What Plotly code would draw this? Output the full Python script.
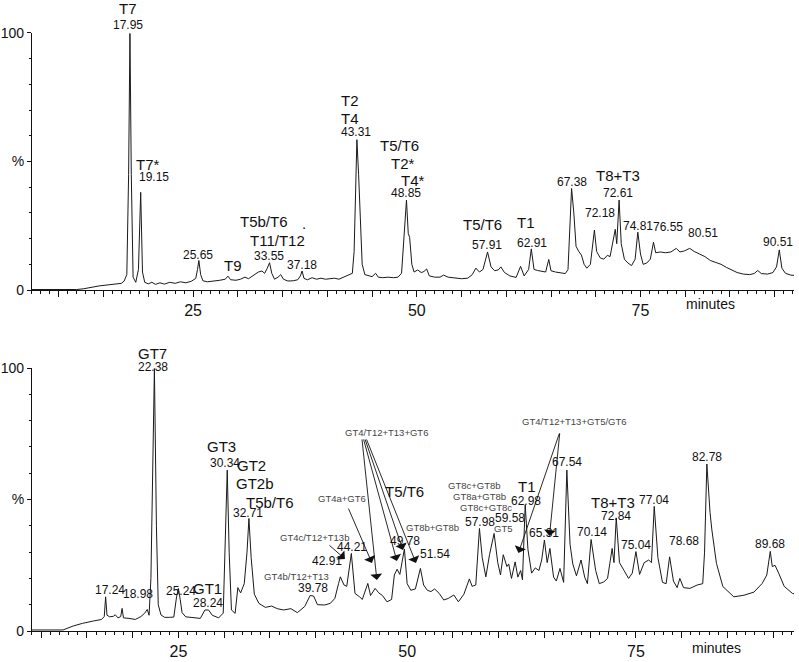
import plotly.graph_objects as go

# ---------------- data: top chromatogram ----------------
top_time = [7.0, 12.0, 12.8, 13.8, 14.5, 15.5, 16.4, 17.0, 17.3, 17.6, 17.8, 17.95, 18.1, 18.3, 18.6, 18.9,
            19.15, 19.35, 19.6, 20.0, 20.4, 20.8, 21.3, 21.8, 22.4, 23.0, 23.6, 24.2, 24.8, 25.3, 25.5, 25.65,
            25.85, 26.1, 26.6, 27.3, 28.0, 28.6, 28.9, 29.2, 29.8, 30.3, 30.8, 31.2, 31.7, 32.3, 32.7, 33.0,
            33.3, 33.55, 33.8, 34.1, 34.5, 34.8, 35.1, 35.6, 36.2, 36.7, 37.0, 37.18, 37.4, 37.8, 38.3, 38.8,
            39.3, 39.8, 40.3, 40.8, 41.3, 41.8, 42.3, 42.8, 43.0, 43.15, 43.31, 43.5, 43.7, 43.9, 44.2, 44.6,
            45.0, 45.4, 45.7, 46.2, 46.8, 47.4, 47.9, 48.3, 48.55, 48.85, 49.05, 49.2, 49.45, 49.7, 50.1, 50.5,
            50.8, 51.1, 51.4, 52.0, 52.6, 53.0, 53.5, 54.2, 55.0, 55.7, 56.2, 56.6, 57.0, 57.4, 57.91, 58.3,
            58.7, 59.1, 59.4, 59.8, 60.4, 61.1, 61.6, 62.0, 62.5, 62.8, 63.1, 63.5, 64.0, 64.4, 64.75, 65.0,
            65.5, 66.1, 66.6, 66.9, 67.1, 67.3, 67.55, 67.8, 68.1, 68.4, 68.7, 69.0, 69.4, 69.85, 70.1, 70.5,
            70.9, 71.3, 71.6, 72.0, 72.18, 72.35, 72.61, 72.85, 73.2, 73.6, 74.0, 74.4, 74.7, 75.0, 75.3, 75.7,
            76.1, 76.45, 76.7, 77.2, 77.8, 78.4, 79.0, 79.4, 79.9, 80.5, 81.0, 81.6, 82.2, 82.8, 83.4, 84.0,
            84.6, 85.2, 85.8, 86.5, 87.2, 87.7, 88.1, 88.5, 89.2, 89.8, 90.2, 90.51, 90.8, 91.2, 91.8, 92.6]
top_intensity = [0.2, 0.2, 0.5, 1.2, 1.6, 2.0, 2.4, 2.6, 3.5, 6, 45, 99.8, 45, 5, 3, 8,
                 38, 7, 3, 2.4, 3.0, 2.2, 2.8, 2.3, 3.0, 2.6, 3.2, 2.8, 3.4, 4.5, 8, 11.5,
                 6, 3.6, 3.2, 3.4, 3.8, 4.2, 5.4, 4.0, 3.8, 4.2, 5.0, 4.4, 5.5, 7.0, 7.4, 6.5,
                 8.5, 10.6, 6.5, 4.2, 5.0, 6.0, 4.2, 3.5, 3.6, 4.0, 5.5, 7.4, 4.5, 4.0, 4.8, 4.2,
                 4.6, 4.2, 4.4, 4.6, 4.2, 5.0, 5.5, 6.5, 15, 40, 58.5, 45, 25, 10, 6.0, 5.6,
                 5.2, 6.5, 5.0, 4.8, 5.0, 4.8, 5.0, 6.5, 20, 35, 22, 20.5, 10, 7, 7.8, 6.8,
                 7.2, 8.2, 5.5, 5.0, 5.0, 5.8, 5.0, 4.6, 4.4, 4.6, 6.0, 8.5, 7.0, 8.0, 14.8, 9,
                 7.5, 7.8, 9.0, 6.8, 5.5, 4.9, 9.2, 5.5, 8, 16, 8, 7.6, 7.4, 7.0, 11.9, 7.5,
                 7.0, 6.6, 6.4, 8, 25, 39.5, 30, 17, 15, 13.6, 10, 8.5, 10, 23.3, 15, 12.5,
                 12, 13.5, 13, 20, 23.6, 18, 35, 18, 12, 10.5, 9.5, 12, 22.5, 14, 10, 10.5,
                 12, 18.6, 14.5, 14.8, 14.5, 14.8, 16.2, 14.8, 15.2, 16.2, 15, 14, 13, 11.5, 10.8, 10,
                 8.8, 7.8, 6.8, 6.2, 6.0, 6.4, 7.6, 6.4, 6.2, 6.8, 9, 15.6, 8.5, 6.5, 5.8, 5.6]

# ---------------- data: bottom chromatogram ----------------
bottom_time = [9.0, 12.4, 13.5, 14.5, 15.7, 16.6, 16.9, 17.05, 17.2, 17.5, 17.9, 18.1, 18.4, 18.7, 18.85, 19.0,
               19.6, 20.3, 20.9, 21.3, 21.6, 21.8, 22.0, 22.38, 22.6, 22.8, 23.1, 23.5, 24.0, 24.5, 24.8, 25.0,
               25.2, 25.4, 25.8, 26.6, 27.4, 27.9, 28.3, 28.7, 29.4, 29.9, 30.1, 30.34, 30.55, 30.8, 31.2, 31.5,
               31.8, 32.2, 32.5, 32.71, 32.95, 33.3, 33.8, 34.5, 35.2, 35.8, 36.5, 37.3, 38.0, 38.8, 39.4, 39.78,
               40.2, 41.0, 41.6, 42.1, 42.5, 42.7, 43.1, 43.4, 43.9, 44.3, 44.8, 45.1, 45.7, 46.0, 46.5, 46.9,
               47.3, 47.8, 48.3, 48.6, 48.9, 49.2, 49.7, 50.0, 50.4, 50.9, 51.45, 51.8, 52.2, 52.6, 53.0, 53.5,
               54.0, 54.5, 55.1, 55.6, 56.2, 56.8, 57.1, 57.5, 57.9, 58.2, 58.6, 59.0, 59.5, 59.9, 60.2, 60.5,
               60.9, 61.1, 61.4, 61.8, 62.1, 62.4, 62.6, 62.9, 63.2, 63.6, 64.0, 64.4, 64.7, 65.0, 65.3, 65.6,
               66.0, 66.3, 66.7, 67.1, 67.45, 67.8, 68.1, 68.5, 69.0, 69.4, 69.7, 70.1, 70.6, 71.0, 71.5, 71.9,
               72.4, 72.6, 72.85, 73.2, 73.7, 74.2, 74.6, 75.0, 75.4, 75.9, 76.4, 76.7, 77.0, 77.4, 77.9, 78.3,
               78.68, 79.1, 79.5, 79.8, 80.2, 80.9, 81.7, 82.3, 82.5, 82.75, 83.1, 83.3, 83.8, 84.5, 85.7, 86.8,
               87.9, 88.8, 89.3, 89.68, 89.9, 90.2, 90.6, 91.2, 92.1, 92.8]
bottom_intensity = [0.4, 0.4, 1.9, 2.9, 3.8, 4.4, 5.5, 13, 6, 5.4, 5.6, 6.2, 5.0, 5.5, 8.6, 5.0,
                    4.8, 4.4, 5.5, 6.7, 8.2, 6, 20, 99.8, 40, 10, 6.1, 5.2, 5.2, 5.3, 13, 16.2,
                    12, 7, 5.4, 5.1, 4.8, 8, 8, 6, 5.0, 6.8, 30, 61.2, 30, 8, 6.7, 16.5,
                    14.5, 18, 30, 42.8, 28, 14, 10.5, 9, 9.5, 8.5, 8, 8.5, 7, 9.3, 13.5, 13.3,
                    10, 9.9, 10.5, 12.4, 18, 20.6, 17.5, 17, 29.5, 14.3, 13, 12, 18.1, 13.5, 16.2, 14.5,
                    13.5, 11.1, 12, 21.3, 23.5, 21.5, 31.2, 18, 15.5, 16, 23.8, 17.5, 15.5, 15, 16, 14.3,
                    11.8, 12.4, 13.7, 11.1, 14, 19.8, 17, 17.5, 39, 28, 20.6, 29, 37.1, 26, 21.3, 29,
                    24.5, 25.5, 20, 26.3, 20.5, 23, 19.5, 48, 31, 22, 24, 23, 27, 34.6, 26, 31.4,
                    20.5, 19, 23.8, 18.5, 61.2, 33, 25.5, 21, 27, 20.5, 18, 34.8, 23, 18, 18.7, 20,
                    31.4, 26, 43, 26, 23, 20, 22, 30.2, 21.5, 26, 27, 26, 47.4, 28, 18.5, 18,
                    28.2, 19, 16.5, 20, 16.5, 16.2, 17.5, 18, 30, 63.5, 45, 38.4, 25.7, 16.9, 13, 13.6,
                    14.8, 18.1, 21.3, 30.3, 24.5, 25, 22, 17, 14.3, 13.8]

# ---------------- tick labels ----------------
x_tick_values = [10, 15, 20, 25, 30, 35, 40, 45, 50, 55, 60, 65, 70, 75, 80, 85, 90]
x_tick_labels = ["", "", "", "25", "", "", "", "", "50", "", "", "", "", "75", "", "", ""]
y_tick_values = [0, 50, 100]
y_tick_labels = ["0", "%", "100"]

# ---------------- peak labels: (text, minutes, %, kind) ----------------
top_labels = [
    ("T7", 17.74, 109.7, "big"), ("17.95", 17.74, 103.1, "num"),
    ("T7*", 19.97, 49.0, "big"), ("19.15", 20.64, 44.0, "num"),
    ("25.65", 25.56, 13.6, "num"), ("T9", 29.47, 9.7, "big"),
    ("T5b/T6", 32.93, 26.5, "big"), (".", 37.4, 26.0, "big"),
    ("T11/T12", 34.39, 19.1, "big"), ("33.55", 33.49, 13.2, "num"),
    ("37.18", 37.18, 9.7, "num"),
    ("T2", 42.54, 73.9, "big"), ("T4", 42.54, 66.9, "big"), ("43.31", 43.21, 61.5, "num"),
    ("T5/T6", 48.02, 56.4, "big"), ("T2*", 48.46, 49.4, "big"), ("T4*", 49.58, 42.8, "big"),
    ("48.85", 48.8, 37.7, "num"),
    ("T5/T6", 57.29, 25.3, "big"), ("57.91", 57.85, 17.5, "num"),
    ("T1", 62.21, 26.1, "big"), ("62.91", 62.88, 18.3, "num"),
    ("67.38", 67.35, 42.0, "num"),
    ("T8+T3", 72.49, 44.7, "big"), ("72.61", 72.49, 37.7, "num"),
    ("72.18", 70.47, 30.0, "num"), ("74.81", 74.72, 24.9, "num"),
    ("76.55", 78.07, 24.5, "num"), ("80.51", 81.98, 22.2, "num"),
    ("90.51", 90.36, 18.7, "num"),
    ("minutes", 82.77, -5.4, "axis"),
]
bottom_labels = [
    ("GT7", 22.21, 105.7, "big"), ("22.38", 22.21, 100.4, "num"),
    ("GT3", 29.75, 70.0, "big"), ("30.34", 30.08, 63.9, "num"),
    ("GT2", 33.03, 63.1, "big"), ("GT2b", 33.36, 55.9, "big"), ("T5b/T6", 35.0, 49.0, "big"),
    ("32.71", 32.6, 44.9, "num"),
    ("17.24", 17.51, 15.6, "num"), ("18.98", 20.57, 14.1, "num"),
    ("25.24", 25.27, 15.2, "num"), ("GT1", 28.22, 16.3, "big"), ("28.24", 28.22, 10.6, "num"),
    ("GT4b/T12+T13", 37.95, 20.9, "small"), ("39.78", 39.7, 16.3, "num"),
    ("GT4c/T12+T13b", 39.92, 35.4, "small"), ("42.91", 41.23, 26.6, "num"),
    ("44.21", 43.96, 31.9, "num"), ("GT4a+GT6", 42.87, 50.2, "small"),
    ("GT4/T12+T13+GT6", 47.79, 75.3, "small"),
    ("T5/T6", 49.75, 52.9, "big"), ("49.78", 49.75, 34.2, "num"),
    ("GT8b+GT8b", 52.81, 39.5, "small"), ("51.54", 53.03, 29.3, "num"),
    ("GT8c+GT8b", 57.4, 55.5, "small"), ("GT8a+GT8b", 57.95, 51.3, "small"),
    ("GT8c+GT8c", 58.61, 46.8, "small"), ("57.98", 57.95, 41.4, "num"),
    ("59.58", 61.23, 43.0, "num"), ("GT5", 60.46, 38.8, "small"),
    ("T1", 63.09, 54.8, "big"), ("62.98", 62.98, 49.4, "num"),
    ("GT4/T12+T13+GT5/GT6", 68.24, 79.8, "small"),
    ("65.31", 64.96, 37.3, "num"), ("67.54", 67.46, 64.3, "num"),
    ("70.14", 70.19, 37.6, "num"), ("T8+T3", 72.49, 49.0, "big"), ("72.84", 72.81, 43.7, "num"),
    ("75.04", 75.0, 32.7, "num"), ("77.04", 76.97, 49.8, "num"),
    ("78.68", 80.25, 34.2, "num"), ("82.78", 82.76, 66.2, "num"),
    ("89.68", 89.64, 33.1, "num"),
    ("minutes", 83.85, -6.5, "axis"),
]
# arrows: (tail minutes, tail %, head minutes, head %)
bottom_arrows = [
    (41.34, 33.1, 43.20, 27.4),
    (43.52, 47.1, 46.15, 25.9),
    (45.05, 73.4, 46.69, 19.4),
    (45.20, 73.4, 48.88, 26.6),
    (45.35, 73.4, 49.54, 30.8),
    (45.50, 73.4, 50.96, 25.9),
    (66.69, 75.7, 62.16, 29.7),
    (66.69, 75.7, 65.55, 36.1),
]

TOP_RANGE = [7.0, 92.15]
BOTTOM_RANGE = [9.0, 92.27]
Y_RANGE = [0, 100]

FONT = "Liberation Sans, Arial, sans-serif"
styles = {
    "big": dict(family=FONT, size=15, color="#111"),
    "num": dict(family=FONT, size=12, color="#111"),
    "small": dict(family=FONT, size=9.5, color="#444"),
    "axis": dict(family=FONT, size=14, color="#111"),
}

fig = go.Figure()
fig.add_trace(go.Scatter(x=top_time, y=top_intensity, mode="lines",
                         line=dict(color="#1a1a1a", width=1), xaxis="x", yaxis="y",
                         hoverinfo="skip", showlegend=False))
fig.add_trace(go.Scatter(x=bottom_time, y=bottom_intensity, mode="lines",
                         line=dict(color="#1a1a1a", width=1), xaxis="x2", yaxis="y2",
                         hoverinfo="skip", showlegend=False))


def to_domain(v, rng):
    return (v - rng[0]) / (rng[1] - rng[0])


annotations = []
for labels, xr, yr, rng in ((top_labels, "x domain", "y domain", TOP_RANGE),
                            (bottom_labels, "x2 domain", "y2 domain", BOTTOM_RANGE)):
    for text, x, y, kind in labels:
        annotations.append(dict(text=text, x=to_domain(x, rng), y=to_domain(y, Y_RANGE),
                                xref=xr, yref=yr, showarrow=False,
                                xanchor="center", yanchor="middle", font=styles[kind]))
for tx, ty, hx, hy in bottom_arrows:
    annotations.append(dict(text="", x=hx, y=hy, ax=tx, ay=ty, xref="x2", yref="y2",
                            axref="x2", ayref="y2", showarrow=True, arrowhead=1,
                            arrowsize=2.2, arrowwidth=0.9, arrowcolor="#111", standoff=0))

xaxis_common = dict(showgrid=False, zeroline=False, showline=True, linecolor="#111", linewidth=1,
                    ticks="outside", ticklen=6, tickwidth=1, tickcolor="#111", automargin=False,
                    tickvals=x_tick_values, ticktext=x_tick_labels,
                    tickfont=dict(family=FONT, size=16, color="#111"),
                    minor=dict(dtick=1, tick0=0, ticklen=3, tickcolor="#111", ticks="outside"))
yaxis_common = dict(showgrid=False, zeroline=False, showline=True, linecolor="#111", linewidth=1,
                    ticks="outside", ticklen=4, tickwidth=1, tickcolor="#111", automargin=False,
                    tickvals=y_tick_values, ticktext=y_tick_labels,
                    tickfont=dict(family=FONT, size=14, color="#111"),
                    minor=dict(dtick=10, tick0=0, ticklen=2, tickcolor="#111", ticks="outside"))

fig.update_layout(
    width=799, height=662, margin=dict(l=0, r=0, t=0, b=0, autoexpand=False),
    paper_bgcolor="white", plot_bgcolor="white",
    xaxis=dict(domain=[0.0400, 0.9937], range=TOP_RANGE, anchor="y", **xaxis_common),
    yaxis=dict(domain=[0.5619, 0.9502], range=Y_RANGE, anchor="x", **yaxis_common),
    xaxis2=dict(domain=[0.0400, 0.9937], range=BOTTOM_RANGE, anchor="y2", **xaxis_common),
    yaxis2=dict(domain=[0.0468, 0.4441], range=Y_RANGE, anchor="x2", **yaxis_common),
    annotations=annotations,
    showlegend=False,
)

fig.write_html("out.html", include_plotlyjs=True, config={"displayModeBar": False},
               post_script="document.body.style.margin='0px';document.body.style.overflow='hidden';")
